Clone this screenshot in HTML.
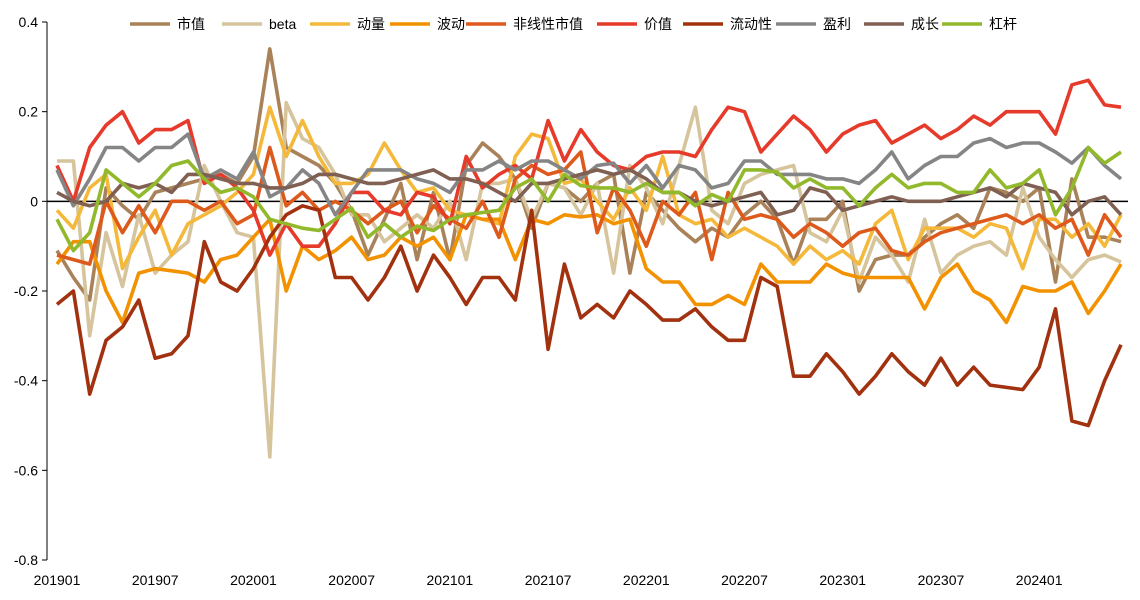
<!DOCTYPE html>
<html><head><meta charset="utf-8"><style>
body{margin:0;background:#fff;}
svg{display:block;font-family:"Liberation Sans","Noto Sans CJK SC",sans-serif;}
</style></head><body>
<svg id="chart" width="1140" height="600"></svg>
<script>
const categories=[];
for(let y=2019;y<=2024;y++){for(let m=1;m<=12;m++){if(y===2024&&m>6)break;categories.push(String(y)+(m<10?'0':'')+m);}}
const yTicks=[0.4,0.2,0,-0.2,-0.4,-0.6,-0.8];
const yTickLabels=['0.4','0.2','0','-0.2','-0.4','-0.6','-0.8'];
const seriesNames=['市值','beta','动量','波动','非线性市值','价值','流动性','盈利','成长','杠杆'];
const seriesColors=['#a9825a','#d6c49c','#f4b93a','#f39200','#dd5a1c','#e63a2a','#a2320f','#858585','#7f6052','#92b92c'];
const sizeVals=[-0.11,-0.17,-0.22,0.03,-0.01,-0.04,0.02,0.03,0.04,0.05, 0.06,0.04,0.1,0.34,0.12,0.1,0.08,0.04,-0.02,-0.12, -0.04,0.04,-0.13,0.02,-0.13,0.08,0.13,0.1,0.05,-0.06, 0.04,0.03,0.0,0.04,0.06,-0.16,0.02,-0.02,-0.06,-0.09, -0.06,-0.08,-0.03,0.0,-0.04,-0.14,-0.04,-0.04,0.0,-0.2, -0.13,-0.12,-0.12,-0.08,-0.05,-0.03,-0.06,0.03,0.02,0.0, 0.03,-0.18,0.05,-0.08,-0.08,-0.09];
const betaVals=[0.09,0.09,-0.3,-0.07,-0.19,-0.03,-0.16,-0.12,-0.09,0.08, 0.0,-0.07,-0.08,-0.57,0.22,0.14,0.12,0.06,-0.03,-0.03, -0.09,-0.06,-0.03,-0.06,0.0,-0.13,0.04,0.04,0.05,-0.04, 0.04,0.03,-0.03,0.04,-0.16,0.08,0.03,-0.05,0.08,0.21, -0.02,-0.05,0.04,0.06,0.07,0.08,-0.07,-0.09,-0.02,-0.18, -0.08,-0.12,-0.18,-0.04,-0.16,-0.12,-0.10,-0.09,-0.12,0.03, -0.08,-0.13,-0.17,-0.13,-0.12,-0.135];
const momVals=[-0.02,-0.06,0.03,0.06,-0.15,-0.08,-0.02,-0.12,-0.05,-0.03, -0.01,0.02,0.06,0.21,0.1,0.18,0.1,0.04,0.04,0.06, 0.13,0.07,0.02,0.03,-0.02,-0.03,-0.04,-0.05,0.1,0.15, 0.14,0.04,0.05,0.0,-0.04,0.03,-0.02,0.1,-0.03,-0.05, -0.04,-0.08,-0.06,-0.08,-0.1,-0.14,-0.1,-0.13,-0.11,-0.14, -0.05,-0.02,-0.13,-0.06,-0.06,-0.06,-0.08,-0.05,-0.06,-0.15, -0.04,-0.04,-0.08,-0.05,-0.1,-0.03];
const volVals=[-0.14,-0.09,-0.09,-0.2,-0.27,-0.16,-0.15,-0.155,-0.16,-0.18, -0.13,-0.12,-0.08,-0.04,-0.2,-0.1,-0.13,-0.11,-0.08,-0.13, -0.12,-0.08,-0.1,-0.08,-0.13,-0.03,-0.04,-0.04,-0.13,-0.04, -0.05,-0.03,-0.035,-0.03,-0.05,-0.04,-0.15,-0.18,-0.18,-0.23, -0.23,-0.21,-0.23,-0.14,-0.18,-0.18,-0.18,-0.14,-0.16,-0.17, -0.17,-0.17,-0.17,-0.24,-0.17,-0.14,-0.2,-0.22,-0.27,-0.19, -0.2,-0.2,-0.18,-0.25,-0.2,-0.14];
const nlsVals=[-0.12,-0.13,-0.14,0.0,-0.07,-0.01,-0.07,0.0,0.0,-0.02, 0.0,-0.05,-0.03,0.12,-0.01,0.02,-0.02,0.0,-0.02,-0.05, -0.02,0.0,-0.07,-0.01,-0.04,-0.06,0.0,-0.08,0.05,0.08, 0.06,0.07,0.11,-0.07,0.03,-0.02,-0.1,0.0,-0.03,0.02, -0.13,0.02,-0.04,-0.03,-0.04,-0.08,-0.05,-0.07,-0.1,-0.07, -0.06,-0.11,-0.12,-0.09,-0.07,-0.06,-0.05,-0.04,-0.03,-0.05, -0.03,-0.06,-0.04,-0.12,-0.03,-0.08];
const valueVals=[0.08,0.0,0.12,0.17,0.2,0.13,0.16,0.16,0.18,0.04, 0.06,0.03,-0.02,-0.12,-0.05,-0.10,-0.10,-0.05,0.02,0.02, -0.02,-0.03,0.02,0.01,-0.05,0.10,0.03,0.06,0.08,0.05, 0.18,0.09,0.16,0.11,0.08,0.07,0.10,0.11,0.11,0.10, 0.16,0.21,0.20,0.11,0.15,0.19,0.16,0.11,0.15,0.17, 0.18,0.13,0.15,0.17,0.14,0.16,0.19,0.17,0.20,0.20, 0.20,0.15,0.26,0.27,0.215,0.21];
const liqVals=[-0.23,-0.2,-0.43,-0.31,-0.28,-0.22,-0.35,-0.34,-0.30,-0.09, -0.18,-0.20,-0.15,-0.08,-0.03,-0.01,-0.02,-0.17,-0.17,-0.22, -0.17,-0.10,-0.20,-0.12,-0.17,-0.23,-0.17,-0.17,-0.22,-0.02, -0.33,-0.14,-0.26,-0.23,-0.26,-0.20,-0.23,-0.265,-0.265,-0.24, -0.28,-0.31,-0.31,-0.17,-0.19,-0.39,-0.39,-0.34,-0.38,-0.43, -0.39,-0.34,-0.38,-0.41,-0.35,-0.41,-0.37,-0.41,-0.415,-0.42, -0.37,-0.24,-0.49,-0.5,-0.4,-0.32];
const profitVals=[0.07,-0.01,0.05,0.12,0.12,0.09,0.12,0.12,0.15,0.05, 0.07,0.05,0.11,0.01,0.03,0.07,0.04,-0.03,0.02,0.07, 0.07,0.07,0.05,0.04,0.02,0.07,0.07,0.09,0.07,0.09, 0.09,0.07,0.05,0.08,0.085,0.04,0.08,0.03,0.08,0.07, 0.03,0.04,0.09,0.09,0.06,0.06,0.06,0.05,0.05,0.04, 0.07,0.11,0.05,0.08,0.1,0.1,0.13,0.14,0.12,0.13, 0.13,0.11,0.085,0.12,0.08,0.05];
const growthVals=[0.02,0.0,-0.01,0.0,0.04,0.03,0.04,0.02,0.06,0.06, 0.05,0.04,0.04,0.03,0.03,0.04,0.06,0.06,0.05,0.04, 0.04,0.05,0.06,0.07,0.05,0.05,0.04,0.02,0.0,0.04, 0.04,0.05,0.06,0.07,0.06,0.07,0.05,0.02,0.02,0.0, -0.01,0.0,0.01,0.02,-0.03,-0.02,0.03,0.02,-0.02,-0.01, 0.0,0.01,0.0,0.0,0.0,0.01,0.02,0.03,0.01,0.04, 0.03,0.02,-0.03,0.0,0.01,-0.03];
const levVals=[-0.04,-0.11,-0.07,0.07,0.04,0.01,0.04,0.08,0.09,0.05, 0.02,0.03,0.01,-0.04,-0.05,-0.06,-0.065,-0.04,-0.015,-0.08, -0.05,-0.08,-0.055,-0.065,-0.04,-0.03,-0.025,-0.02,0.03,0.05, 0.0,0.06,0.035,0.03,0.03,0.02,0.04,0.02,0.02,-0.01, 0.015,0.0,0.07,0.07,0.065,0.03,0.05,0.03,0.03,-0.01, 0.03,0.06,0.03,0.04,0.04,0.02,0.02,0.07,0.03,0.04, 0.07,-0.03,0.03,0.12,0.085,0.11];
const allSeries=[sizeVals,betaVals,momVals,volVals,nlsVals,valueVals,liqVals,profitVals,growthVals,levVals];

const svg=document.getElementById('chart');
const NS='http://www.w3.org/2000/svg';
const x0=57,x1=1121,yTop=22,yBot=560,vMax=0.4,vMin=-0.8;
function xs(i){return x0+(x1-x0)*i/(categories.length-1);}
function ys(v){return yTop+(vMax-v)/(vMax-vMin)*(yBot-yTop);}
function mk(tag,attrs){const e=document.createElementNS(NS,tag);for(const k in attrs)e.setAttribute(k,attrs[k]);svg.appendChild(e);return e;}

const yAxis=mk('line',{x1:47,y1:yTop,x2:47,y2:yBot,stroke:'#000','stroke-width':1});


yTicks.forEach((v,k)=>{
  const t=mk('line',{x1:42,y1:ys(v),x2:47,y2:ys(v),stroke:'#000'});
  
  
  const l=mk('text',{x:38,y:ys(v)+5,'text-anchor':'end','font-size':14,fill:'#000'});
  l.textContent=yTickLabels[k];
  
  
});
const zl=mk('line',{x1:47,y1:ys(0),x2:1128,y2:ys(0),stroke:'#000','stroke-width':1.5});


categories.forEach((c,i)=>{
  if(i%6!==0)return;
  const l=mk('text',{x:xs(i),y:585,'text-anchor':'middle','font-size':14,fill:'#000'});
  l.textContent=c;
  
  
});
allSeries.forEach((vals,s)=>{
  const d=vals.map((v,i)=>(i?'L':'M')+xs(i).toFixed(1)+','+ys(v).toFixed(1)).join('');
  const p=mk('path',{d:d,fill:'none',stroke:seriesColors[s],'stroke-width':3.6,'stroke-linejoin':'round'});
  
  
});
const legendX=[130,222,310,390,466,597,683,776,864,942];
seriesNames.forEach((n,s)=>{
  const lx=legendX[s];
  const ln=mk('line',{x1:lx,y1:24,x2:lx+40,y2:24,stroke:seriesColors[s],'stroke-width':3.5});
  
  
  const t=mk('text',{x:lx+47,y:29,'font-size':14,fill:'#000'});
  t.textContent=n;
  
  
});
</script>
</body></html>
